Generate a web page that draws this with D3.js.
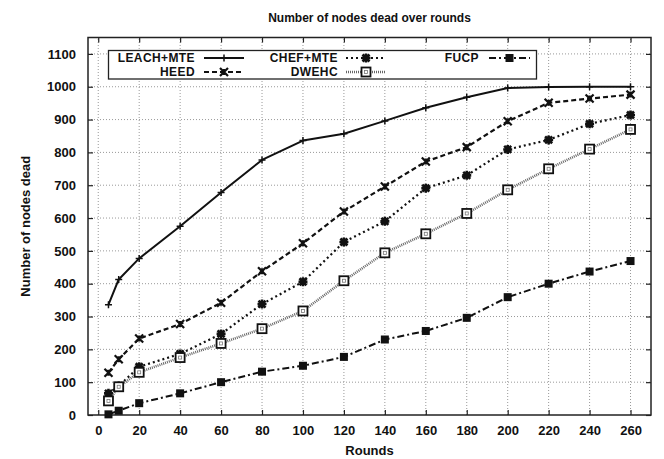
<!DOCTYPE html>
<html><head><meta charset="utf-8">
<script src="https://cdn.jsdelivr.net/npm/d3@7"></script>
<style>
body{margin:0;background:#fff;}
text{font-family:"Liberation Sans",Arial,sans-serif;font-weight:bold;fill:#111;}
</style></head>
<body><div id="chart"></div>
<script>
const rounds = [5,10,20,40,60,80,100,120,140,160,180,200,220,240,260];
const leachMte = [336,413,477,575,678,777,836,857,896,936,968,996,999,1000,1000];
const heed = [129,170,233,277,342,438,523,620,696,772,816,895,951,964,976];
const chefMte = [66,88,147,186,247,338,406,527,590,691,730,809,838,887,914];
const dwehc = [43,86,130,175,218,263,317,409,494,552,614,686,750,810,870];
const fucp = [2,13,36,66,100,132,150,177,230,256,296,359,400,437,469];
const xTicks = [0,20,40,60,80,100,120,140,160,180,200,220,240,260];
const yTicks = [0,100,200,300,400,500,600,700,800,900,1000,1100];
const seriesNames = ["LEACH+MTE","HEED","CHEF+MTE","DWEHC","FUCP"];

const W = 664, H = 459;
const L = 88, R = 651, T = 37.5, B = 415;
const svg = d3.select("#chart").append("svg").attr("width",W).attr("height",H);

const x = d3.scaleLinear().domain([-5,270]).range([L,R]);
const y = d3.scaleLinear().domain([0,1150]).range([B,T]);

// grid
const grid = svg.append("g");
grid.selectAll(".gx").data(xTicks).enter().append("line")
  .attr("x1",d=>x(d)).attr("x2",d=>x(d)).attr("y1",B).attr("y2",T)
  .attr("stroke","#999").attr("stroke-width",1).attr("stroke-dasharray","1,2");
grid.selectAll(".gy").data(yTicks.filter(d=>d>0)).enter().append("line")
  .attr("x1",L).attr("x2",R).attr("y1",d=>y(d)).attr("y2",d=>y(d))
  .attr("stroke","#999").attr("stroke-width",1).attr("stroke-dasharray","1,2");

// axes (ticks inward, mirrored)
const fmt = d3.format("d");
const ax = d3.axisBottom(x).tickValues(xTicks).tickFormat(fmt).tickSizeInner(-5).tickSizeOuter(0).tickPadding(11);
const ay = d3.axisLeft(y).tickValues(yTicks).tickFormat(fmt).tickSizeInner(-5).tickSizeOuter(0).tickPadding(12);
const gxA = svg.append("g").attr("transform",`translate(0,${B})`).call(ax);
const gyA = svg.append("g").attr("transform",`translate(${L},0)`).call(ay);
const gxT = svg.append("g").attr("transform",`translate(0,${T})`).call(d3.axisTop(x).tickValues(xTicks).tickSizeInner(-5).tickSizeOuter(0).tickFormat(""));
const gyR = svg.append("g").attr("transform",`translate(${R},0)`).call(d3.axisRight(y).tickValues(yTicks).tickSizeInner(-5).tickSizeOuter(0).tickFormat(""));
[gxA,gyA,gxT,gyR].forEach(g=>{
  g.select(".domain").remove();
  g.selectAll(".tick line").attr("stroke","#222").attr("stroke-width",1.2);
  g.selectAll("text").attr("font-size",13).attr("font-family","Liberation Sans, Arial, sans-serif").attr("font-weight","bold").attr("fill","#111");
});
svg.append("rect").attr("x",L).attr("y",T).attr("width",R-L).attr("height",B-T)
  .attr("fill","none").attr("stroke","#222").attr("stroke-width",1.5);

// titles
svg.append("text").attr("x",(L+R)/2).attr("y",22).attr("text-anchor","middle").attr("font-size",12).text("Number of nodes dead over rounds");
svg.append("text").attr("x",(L+R)/2).attr("y",455).attr("text-anchor","middle").attr("font-size",13).text("Rounds");
svg.append("text").attr("transform",`translate(30,${(T+B)/2}) rotate(-90)`).attr("text-anchor","middle").attr("font-size",13).text("Number of nodes dead");

// markers
function marker(g, type, cx, cy){
  if(type===0){
    g.append("path").attr("d",`M${cx-3.5},${cy}H${cx+3.5}M${cx},${cy-3.5}V${cy+3.5}`).attr("stroke","#111").attr("stroke-width",1.5);
  } else if(type===1){
    g.append("path").attr("d",`M${cx-4},${cy-4}L${cx+4},${cy+4}M${cx-4},${cy+4}L${cx+4},${cy-4}M${cx},${cy-3}V${cy+3}`).attr("stroke","#111").attr("stroke-width",2.2);
  } else if(type===2){
    g.append("path").attr("d",`M${cx-3.5},${cy-3.5}L${cx+3.5},${cy+3.5}M${cx-3.5},${cy+3.5}L${cx+3.5},${cy-3.5}M${cx-4.5},${cy}H${cx+4.5}M${cx},${cy-4.5}V${cy+4.5}`).attr("stroke","#111").attr("stroke-width",2.6);
  } else if(type===3){
    g.append("rect").attr("x",cx-4.5).attr("y",cy-4.5).attr("width",9).attr("height",9).attr("fill","#fff").attr("stroke","#111").attr("stroke-width",1.8);
    g.append("rect").attr("x",cx-1.5).attr("y",cy-1.5).attr("width",3).attr("height",3).attr("fill","none").attr("stroke","#777").attr("stroke-width",0.8);
  } else {
    g.append("rect").attr("x",cx-4).attr("y",cy-4).attr("width",8).attr("height",8).attr("fill","#111");
  }
}
const styles = [
  {stroke:"#111",width:2,dash:null},
  {stroke:"#111",width:2.2,dash:"5,3"},
  {stroke:"#111",width:2.2,dash:"2,3"},
  {stroke:"#666",width:2.6,dash:"1,1"},
  {stroke:"#111",width:2,dash:"7,3,2,3"}
];
const allSeries = [leachMte, heed, chefMte, dwehc, fucp];
const line = d3.line().x((d,i)=>x(rounds[i])).y(d=>y(d));
const plot = svg.append("g");
allSeries.forEach((vals,k)=>{
  const st = styles[k];
  const p = plot.append("path").datum(vals).attr("d",line).attr("fill","none")
    .attr("stroke",st.stroke).attr("stroke-width",st.width).attr("stroke-linejoin","round");
  if(st.dash) p.attr("stroke-dasharray",st.dash);
});
allSeries.forEach((vals,k)=>{
  const g = plot.append("g");
  vals.forEach((v,i)=>marker(g,k,x(rounds[i]),y(v)));
});

// legend
const lg = svg.append("g");
lg.append("rect").attr("x",108.5).attr("y",50.5).attr("width",428).attr("height",28.5).attr("fill","#fff").attr("stroke","#222").attr("stroke-width",1.3);
const legPos = [
  {tx:195,ly:58,l1:204,l2:244},
  {tx:195,ly:72,l1:204,l2:244},
  {tx:338,ly:58,l1:346,l2:386},
  {tx:338,ly:72,l1:346,l2:386},
  {tx:479,ly:58,l1:489,l2:530}
];
seriesNames.forEach((name,k)=>{
  const p = legPos[k], st = styles[k];
  lg.append("text").attr("x",p.tx).attr("y",p.ly+4.3).attr("text-anchor","end").attr("font-size",12).attr("letter-spacing",0.4).text(name);
  const ln = lg.append("line").attr("x1",p.l1).attr("x2",p.l2).attr("y1",p.ly).attr("y2",p.ly)
    .attr("stroke",st.stroke).attr("stroke-width",st.width);
  if(st.dash) ln.attr("stroke-dasharray",st.dash);
  marker(lg,k,(p.l1+p.l2)/2,p.ly);
});
</script></body></html>
